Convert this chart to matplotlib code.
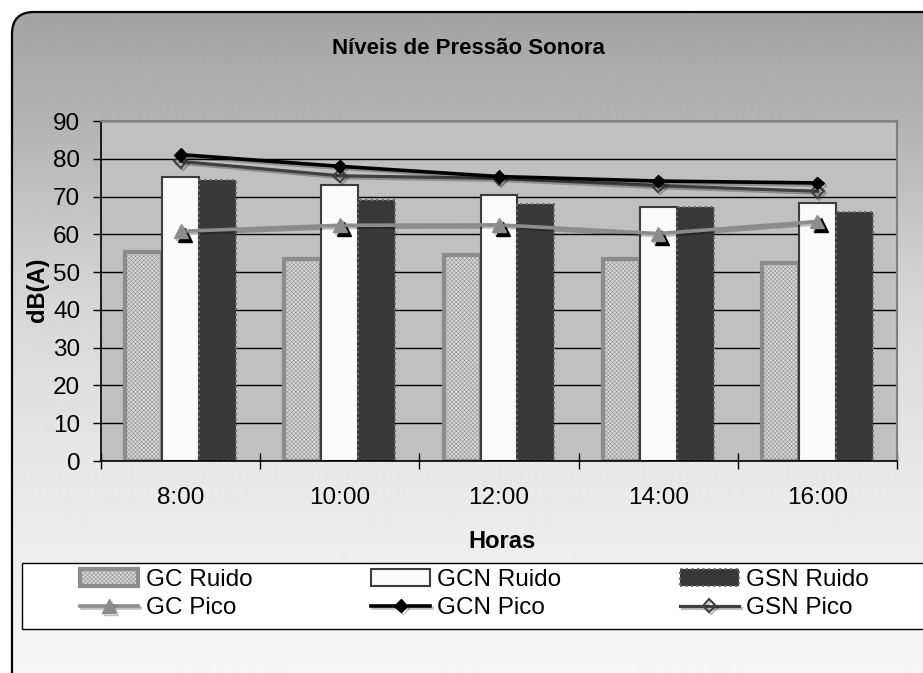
"""
Níveis de Pressão Sonora — grouped bars (Ruido) + lines (Pico) per hour.
Excel-style grey chart: gradient rounded frame, grey plot area, legend box below.
"""

import numpy as np
import matplotlib
matplotlib.use("Agg")
import matplotlib.pyplot as plt
from matplotlib.patches import FancyBboxPatch, Rectangle
from matplotlib.transforms import offset_copy
import matplotlib.patheffects as pe


# ─── Data ────────────────────────────────────────────
horas = ["8:00", "10:00", "12:00", "14:00", "16:00"]

gc_ruido = [55.3, 53.4, 54.5, 53.4, 52.4]
gcn_ruido = [75.2, 73.0, 70.5, 67.3, 68.3]
gsn_ruido = [74.3, 69.0, 68.0, 67.3, 66.0]

gc_pico = [60.8, 62.4, 62.5, 60.2, 63.4]
gcn_pico = [81.1, 78.0, 75.3, 74.1, 73.6]
gsn_pico = [79.3, 75.5, 74.8, 72.9, 71.4]

y_ticks = [0, 10, 20, 30, 40, 50, 60, 70, 80, 90]


# ─── Figure / style ──────────────────────────────────
W, H, DPI = 923, 673, 100
plt.rcParams["font.family"] = ["Liberation Sans", "DejaVu Sans"]
plt.rcParams["hatch.linewidth"] = 0.35
FS = 17.5          # tick labels + legend
FS_BOLD = 17       # axis titles
FS_TITLE = 16      # chart title

fig = plt.figure(figsize=(W / DPI, H / DPI), dpi=DPI)
fig.patch.set_facecolor("white")

# background axes in pixel coordinates (y pointing down)
bg = fig.add_axes([0, 0, 1, 1])
bg.set_xlim(0, W)
bg.set_ylim(H, 0)
bg.axis("off")

frame = FancyBboxPatch((12, 12), W + 40, H + 40,
                       boxstyle="round,pad=0,rounding_size=22",
                       facecolor="none", edgecolor="black", linewidth=1.6, zorder=3)
bg.add_patch(frame)

# vertical grey gradient clipped to the rounded frame
rows = np.arange(H)
shade = np.interp(rows, [12, 120, 300, 470, 673], [0.64, 0.70, 0.84, 0.91, 0.965])
grad = np.repeat(shade[:, None], 2, axis=1)
img = bg.imshow(grad, cmap="gray", vmin=0, vmax=1, extent=[0, W, H, 0],
                aspect="auto", zorder=1, interpolation="bilinear")
img.set_clip_path(FancyBboxPatch((12, 12), W + 40, H + 40,
                                 boxstyle="round,pad=0,rounding_size=22",
                                 transform=bg.transData))

# legend box (white, runs off the right edge)
bg.add_patch(Rectangle((22, 563), W, 66, facecolor="white",
                       edgecolor="black", linewidth=1.0, zorder=2))


# ─── Main plot area ──────────────────────────────────
left, right, top, bottom = 101, 897, 121, 461
ax = fig.add_axes([left / W, 1 - bottom / H, (right - left) / W, (bottom - top) / H])
ax.set_facecolor("#c0c0c0")

x = np.arange(len(horas))
bw = 0.232

b_gc = ax.bar(x - bw, gc_ruido, bw, facecolor="#d6d6d6", edgecolor="#8c8c8c",
              hatch="xxxxxxxx", linewidth=3, zorder=2, label="GC Ruido")
b_gcn = ax.bar(x, gcn_ruido, bw, facecolor="#fafafa", edgecolor="#3c3c3c",
               linewidth=1.5, zorder=2, label="GCN Ruido")
b_gsn = ax.bar(x + bw, gsn_ruido, bw, facecolor="#383838", edgecolor="#6a6a6a",
               linewidth=1.5, linestyle=":", zorder=2, label="GSN Ruido")

shadow = [pe.SimpleLineShadow(offset=(1.5, -1.5), alpha=0.25), pe.Normal()]

# black "shadow" triangles under GC Pico markers
ax.plot(x, gc_pico, linestyle="none", marker="^", markersize=10, color="black",
        transform=offset_copy(ax.transData, fig=fig, x=4, y=-4, units="dots"), zorder=3)
l_gc, = ax.plot(x, gc_pico, color="#8c8c8c", linewidth=2.6, marker="^",
                markersize=10, zorder=4, label="GC Pico", path_effects=shadow)
l_gcn, = ax.plot(x, gcn_pico, color="black", linewidth=2.6, marker="D",
                 markersize=6.5, zorder=5, label="GCN Pico", path_effects=shadow)
l_gsn, = ax.plot(x, gsn_pico, color="#404040", linewidth=2.3, marker="D",
                 markersize=6.5, markerfacecolor="none", markeredgewidth=1.5,
                 zorder=4, label="GSN Pico", path_effects=shadow)

ax.set_ylim(0, 90)
ax.set_yticks(y_ticks)
ax.yaxis.grid(True, color="black", linewidth=1.0)
ax.set_axisbelow(True)

ax.set_xlim(-0.5, len(horas) - 0.5)
ax.set_xticks(np.arange(-0.5, len(horas), 1.0))
ax.set_xticklabels([])
ax.set_xticks(x, minor=True)
ax.set_xticklabels(horas, minor=True)

ax.tick_params(axis="y", direction="out", length=6, width=1, pad=9, labelsize=FS)
ax.tick_params(axis="x", which="major", direction="inout", length=12, width=1)
ax.tick_params(axis="x", which="minor", length=0, pad=19, labelsize=FS)

for side in ("top", "right"):
    ax.spines[side].set_color("#808080")
    ax.spines[side].set_linewidth(1.5)
for side in ("left", "bottom"):
    ax.spines[side].set_color("black")
    ax.spines[side].set_linewidth(1.2)


# ─── Texts ───────────────────────────────────────────
fig.text(468 / W, 1 - 48 / H, "Níveis de Pressão Sonora", ha="center", va="center",
         fontsize=FS_TITLE, fontweight="bold")
fig.text(502 / W, 1 - 541 / H, "Horas", ha="center", va="center",
         fontsize=FS_BOLD, fontweight="bold")
fig.text(37 / W, 1 - 290 / H, "dB(A)", ha="center", va="center", rotation=90,
         fontsize=FS_BOLD, fontweight="bold")


# ─── Legend (column-major: Ruido over Pico) ──────────
handles = [b_gc, l_gc, b_gcn, l_gcn, b_gsn, l_gsn]
labels = [h.get_label() for h in handles]
fig.legend(handles, labels, loc="center left", bbox_to_anchor=(80 / W, 1 - 594 / H),
           ncol=3, frameon=False, fontsize=FS, borderpad=0, borderaxespad=0,
           handlelength=2.4, handleheight=0.74, handletextpad=0.3,
           columnspacing=4.9, labelspacing=0.25)

fig.savefig("out.png", dpi=DPI)
